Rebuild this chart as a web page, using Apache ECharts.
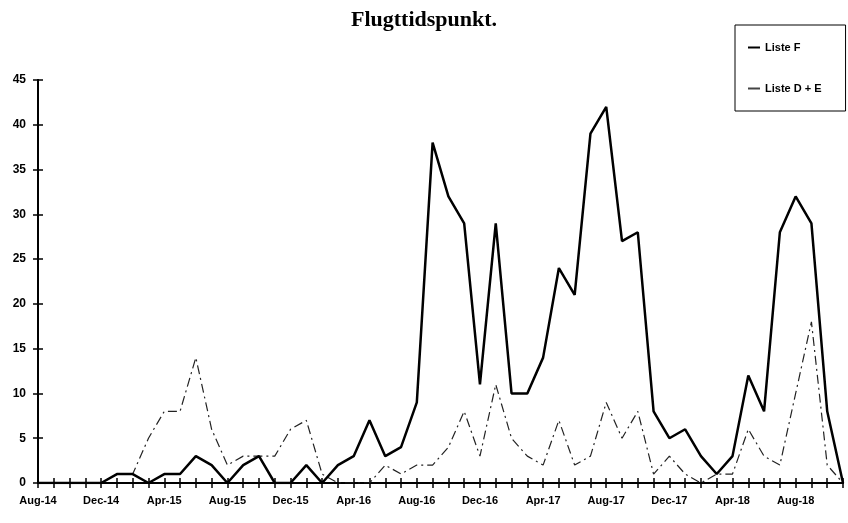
<!DOCTYPE html>
<html>
<head>
<meta charset="utf-8">
<script src="https://cdn.jsdelivr.net/npm/echarts@6/dist/echarts.min.js"></script>
<style>
  html, body { margin: 0; padding: 0; background: #fff; }
  #chart { width: 848px; height: 523px; }
</style>
</head>
<body>
<div id="chart"></div>
<script>
  // months Aug-14 .. Nov-18
  const months = [
    'Aug-14', 'Sep-14', 'Oct-14', 'Nov-14', 'Dec-14', 'Jan-15', 'Feb-15', 'Mar-15',
    'Apr-15', 'May-15', 'Jun-15', 'Jul-15', 'Aug-15', 'Sep-15', 'Oct-15', 'Nov-15',
    'Dec-15', 'Jan-16', 'Feb-16', 'Mar-16', 'Apr-16', 'May-16', 'Jun-16', 'Jul-16',
    'Aug-16', 'Sep-16', 'Oct-16', 'Nov-16', 'Dec-16', 'Jan-17', 'Feb-17', 'Mar-17',
    'Apr-17', 'May-17', 'Jun-17', 'Jul-17', 'Aug-17', 'Sep-17', 'Oct-17', 'Nov-17',
    'Dec-17', 'Jan-18', 'Feb-18', 'Mar-18', 'Apr-18', 'May-18', 'Jun-18', 'Jul-18',
    'Aug-18', 'Sep-18', 'Oct-18', 'Nov-18'
  ];

  const listeF = [
    0, 0, 0, 0, 0, 1, 1, 0,
    1, 1, 3, 2, 0, 2, 3, 0,
    0, 2, 0, 2, 3, 7, 3, 4,
    9, 38, 32, 29, 11, 29, 10, 10,
    14, 24, 21, 39, 42, 27, 28, 8,
    5, 6, 3, 1, 3, 12, 8, 28,
    32, 29, 8, 0
  ];

  const listeDE = [
    0, 0, 0, 0, 0, 1, 1, 5,
    8, 8, 14, 6, 2, 3, 3, 3,
    6, 7, 1, 0, 0, 0, 2, 1,
    2, 2, 4, 8, 3, 11, 5, 3,
    2, 7, 2, 3, 9, 5, 8, 1,
    3, 1, 0, 1, 1, 6, 3, 2,
    10, 18, 2, 0
  ];

  const yTicks = [0, 5, 10, 15, 20, 25, 30, 35, 40, 45];

  const labelFont = { fontFamily: 'Liberation Sans', fontWeight: 'bold', fontSize: 11, color: '#000' };

  const chart = echarts.init(document.getElementById('chart'));

  const xBase = {
    type: 'category',
    data: months,
    boundaryGap: false,
    position: 'bottom',
    axisLine: { show: true, lineStyle: { color: '#000', width: 2 } },
    splitLine: { show: false }
  };

  const yBase = {
    type: 'value',
    min: yTicks[0],
    max: yTicks[yTicks.length - 1],
    interval: 5,
    position: 'left',
    axisLine: { show: true, lineStyle: { color: '#000', width: 2 } },
    splitLine: { show: false }
  };

  chart.setOption({
    animation: false,
    backgroundColor: '#fff',
    title: {
      text: 'Flugttidspunkt.',
      left: 'center',
      top: 4,
      textStyle: { fontFamily: 'Liberation Serif', fontWeight: 'bold', fontSize: 22, color: '#000' }
    },
    legend: {
      orient: 'vertical',
      left: 735,
      top: 25,
      padding: [17, 24, 17, 13],
      itemGap: 30,
      itemWidth: 12,
      itemHeight: 2,
      borderColor: '#000',
      borderWidth: 1,
      textStyle: { fontFamily: 'Liberation Sans', fontWeight: 'bold', fontSize: 11, color: '#000' },
      data: [
        { name: 'Liste F', icon: 'rect', itemStyle: { color: '#000' } },
        { name: 'Liste D + E', icon: 'rect', itemStyle: { color: '#444' } }
      ]
    },
    grid: { left: 38, right: 5, top: 80, bottom: 40, containLabel: false },
    xAxis: [
      Object.assign({}, xBase, {
        axisTick: { show: true, interval: 0, inside: false, length: 5, lineStyle: { color: '#000', width: 1.5 } },
        axisLabel: Object.assign({ interval: 3, margin: 12 }, labelFont)
      }),
      Object.assign({}, xBase, {
        axisTick: { show: true, interval: 0, inside: true, length: 5, lineStyle: { color: '#000', width: 1.5 } },
        axisLabel: { show: false }
      })
    ],
    yAxis: [
      Object.assign({}, yBase, {
        axisTick: { show: true, inside: false, length: 5, lineStyle: { color: '#000', width: 1.5 } },
        axisLabel: Object.assign({ margin: 12 }, labelFont, { fontSize: 12 })
      }),
      Object.assign({}, yBase, {
        axisTick: { show: true, inside: true, length: 5, lineStyle: { color: '#000', width: 1.5 } },
        axisLabel: { show: false }
      })
    ],
    series: [
      {
        name: 'Liste F',
        type: 'line',
        data: listeF,
        symbol: 'none',
        color: '#000',
        lineStyle: { color: '#000', width: 2.5 },
        z: 3
      },
      {
        name: 'Liste D + E',
        type: 'line',
        data: listeDE,
        symbol: 'none',
        color: '#222',
        lineStyle: { color: '#222', width: 1.2, type: [9, 4, 2, 4] },
        z: 2
      }
    ]
  });
</script>
</body>
</html>
